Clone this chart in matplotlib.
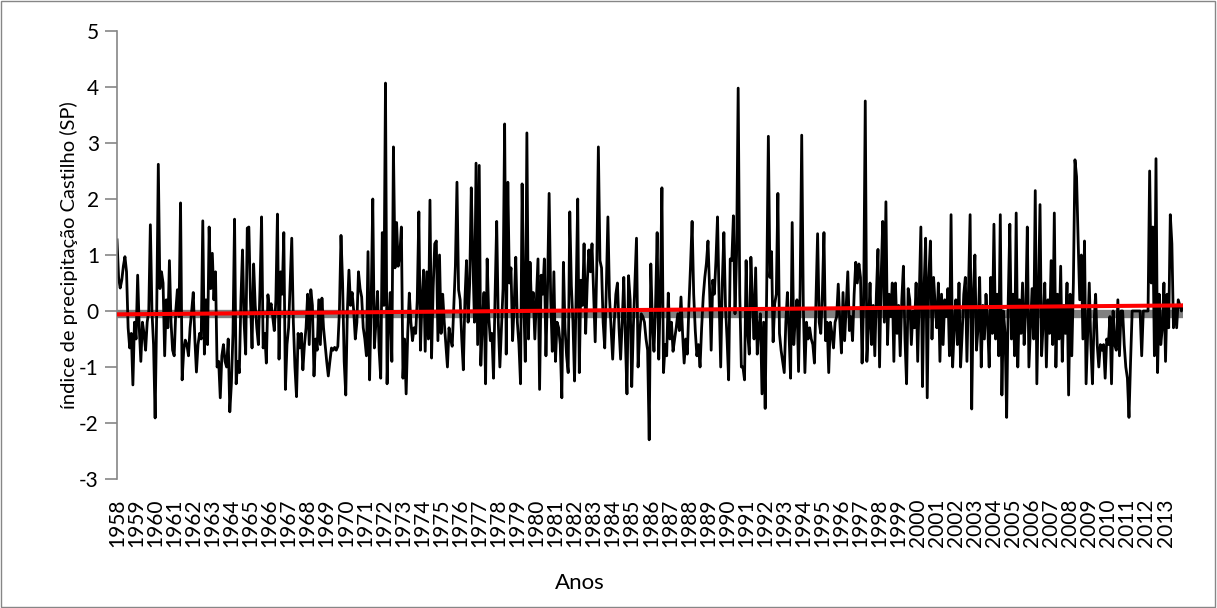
import matplotlib
matplotlib.use("Agg")
import matplotlib.pyplot as plt
import numpy as np
from matplotlib.patches import Rectangle

plt.rcParams['font.family'] = ['Lato', 'DejaVu Sans']
plt.rcParams['axes.unicode_minus'] = False

# monthly index values, one row per year (Jan..Dec)
years = list(range(1958, 2014))

v1958_1962 = [
    1.27, 0.6, 0.41, 0.55, 0.8, 0.97, 0.7, -0.3, -0.66, -0.4, -1.32, -0.2,
    -0.5, 0.64, -0.3, -0.9, -0.2, -0.4, -0.7, -0.2, 0.0, 1.54, 0.0, -0.6,
    -1.91, 0.0, 2.62, 0.4, 0.7, 0.5, -0.8, 0.2, -0.3, 0.9, -0.2, -0.7,
    -0.8, 0.0, 0.38, -0.1, 1.93, -1.23, -0.7, -0.52, -0.6, -0.8, -0.3, 0.0,
    0.33, -0.5, -1.09, -0.6, -0.4, -0.5, 1.61, -0.77, 0.2, -0.6, 1.5, 0.4,
]
v1963_1967 = [
    1.03, 0.2, 0.7, -1.0, -0.9, -1.55, -0.8, -0.6, -0.9, -1.0, -0.5, -1.8,
    -1.3, -0.4, 1.64, -1.3, -0.9, -1.1, 0.2, 1.09, -0.2, -0.77, 1.48, 1.5,
    0.2, -0.66, 0.84, 0.1, -0.3, -0.6, 0.4, 1.68, -0.66, -0.4, -0.93, 0.29,
    0.0, 0.13, -0.1, -0.35, 0.2, 1.73, -0.86, 0.7, 0.3, 1.4, -1.4, -0.6,
    -0.3, 0.5, 1.3, -0.2, -1.0, -1.53, -0.4, -0.66, -0.4, -1.05, -0.6, -0.3,
]
v1968_1972 = [
    0.3, -0.6, 0.38, 0.1, -1.16, -0.5, -0.7, 0.2, -0.6, 0.23, -0.3, -0.6,
    -0.9, -1.16, -0.9, -0.66, -0.7, -0.65, -0.7, -0.63, 0.0, 1.35, 0.5, -0.9,
    -1.5, 0.0, 0.73, 0.1, 0.33, 0.0, -0.5, -0.2, 0.7, 0.4, 0.25, -0.3,
    -0.5, -0.8, 1.06, -1.23, 0.2, 2.0, -0.66, -0.2, 0.35, -0.7, -1.2, 1.4,
    0.1, 4.07, -1.3, -0.2, 0.33, -0.9, 2.93, 0.77, 1.58, 0.8, 1.0, 1.5,
]
v1973_1977 = [
    -1.2, -0.5, -1.48, -0.4, 0.32, -0.2, -0.53, -0.3, -0.4, 0.2, 1.77, -0.7,
    0.2, 0.73, -0.72, 0.7, -0.5, 1.98, -0.84, 0.4, 1.2, 1.25, -0.53, 1.0,
    -0.4, 0.3, -0.2, -0.6, -1.0, -0.3, -0.5, -0.63, 0.1, 0.8, 2.3, 0.38,
    0.2, -0.5, -1.05, 0.2, 0.9, -0.2, 0.5, 2.2, 0.93, -0.2, 2.64, -0.6,
    2.6, -0.97, -0.2, 0.33, -1.3, 0.93, -0.1, -0.53, -0.4, -1.2, 0.3, 1.6,
]
v1978_1982 = [
    -0.2, -1.0, -0.3, 0.4, 3.34, -0.77, 2.3, 0.5, 0.77, -0.53, 0.1, 0.96,
    -0.2, -0.6, -1.3, 2.27, 0.2, -0.9, 3.18, -0.5, 0.87, 0.0, 0.33, -0.5,
    0.2, 0.93, -1.4, 0.64, 0.3, 0.93, -0.8, 0.4, 2.1, 0.2, -0.72, 0.7,
    -0.9, -0.2, -0.3, -0.6, -1.55, 0.87, -0.3, -0.8, -1.1, 1.77, 0.45, -0.2,
    -1.25, 0.3, 2.0, -1.1, 0.55, 0.1, 1.2, -0.4, 0.5, 1.09, 0.7, 1.2,
]
v1983_1987 = [
    0.3, -0.55, 0.8, 2.93, 0.9, 0.77, -0.2, -0.66, 0.4, 1.68, 0.25, -0.3,
    -0.86, -0.2, 0.3, 0.5, -0.3, -0.86, -0.2, 0.6, -0.5, -1.48, 0.63, 0.2,
    -1.35, -0.3, 0.5, 1.3, -1.0, -0.4, -0.05, -0.1, -0.2, -0.5, -0.7, -2.3,
    0.84, -0.2, -0.72, 0.1, 1.4, -0.86, 0.3, 2.2, -1.1, -0.6, -0.8, 0.32,
    -0.5, -0.2, -0.72, -0.5, -0.3, -0.05, -0.35, 0.25, -0.4, -0.93, -0.5, -0.77,
]
v1988_1992 = [
    0.1, 0.8, 1.6, 0.3, -0.35, -0.8, -0.6, -1.0, -0.3, 0.25, 0.6, 0.85,
    1.25, 0.4, -0.7, 0.55, 0.3, 0.9, 1.68, 0.2, -1.0, 0.5, 1.4, 0.1,
    -0.5, -1.23, 0.93, 0.9, 1.7, -0.05, 1.0, 3.98, 0.3, -1.0, -1.0, -1.23,
    0.9, -0.4, -0.77, 0.96, 0.2, -0.5, 0.77, -0.77, -0.3, -0.05, -1.48, -0.2,
    -1.74, 0.5, 3.12, 0.6, 1.06, -0.55, 0.13, 0.3, 2.1, -0.4, -0.7, -0.9,
]
v1993_1997 = [
    -1.1, -0.2, 0.33, -0.4, -1.2, 1.58, -0.6, -0.1, 0.2, -1.08, 0.4, 3.14,
    0.1, -1.1, -0.2, -0.5, -0.3, -0.5, -0.6, -0.93, 0.2, 1.38, -0.2, -0.4,
    0.3, 1.4, -0.53, -0.2, -1.1, -0.2, -0.4, -0.66, -0.2, -0.1, 0.48, -0.2,
    -0.75, 0.33, -0.53, 0.1, 0.7, -0.35, -0.1, -0.53, 0.3, 0.87, 0.5, 0.84,
    0.6, -0.93, 0.2, 3.75, -0.9, -0.3, 0.5, -0.6, 0.1, -0.8, 0.3, 1.1,
]
v1998_2002 = [
    -1.0, 0.6, 1.6, -0.2, 1.95, -0.6, 0.3, -0.1, 0.5, -0.9, 0.5, -0.4,
    0.1, -0.8, 0.2, 0.8, -0.5, -1.3, 0.4, 0.2, -0.6, 0.0, -0.3, 0.5,
    -0.9, 0.3, 1.5, -1.35, 0.4, 1.3, -1.55, 0.6, 1.25, -0.5, 0.6, 0.1,
    -0.3, 0.5, -0.9, 0.3, -0.6, 0.2, -0.1, 0.4, -0.8, 1.72, -1.0, -0.3,
    0.2, -0.6, 0.5, -1.0, -0.4, 0.3, 0.6, -0.9, 0.4, 1.72, -1.75, 0.3,
]
v2003_2007 = [
    1.0, -0.7, -0.3, 0.6, -1.0, 0.1, -0.5, 0.3, -0.2, -1.0, 0.6, -0.4,
    1.55, -0.5, 0.3, -0.8, 1.72, -1.5, 0.0, -0.4, -1.9, 0.2, 1.55, -0.5,
    0.3, -0.8, 1.75, -1.0, 0.2, -0.4, 0.5, -0.6, 0.0, 1.5, -1.0, -0.3,
    0.4, -0.5, 2.15, -1.3, 0.3, 1.9, -0.8, -0.2, 0.5, -1.0, 0.2, -0.4,
    0.9, -0.6, 1.75, -1.0, 0.3, -0.5, 0.8, -0.9, 0.1, -0.4, 0.5, -1.5,
]
v2008_2013 = [
    0.3, -0.8, 0.5, 2.7, 2.4, 1.25, 0.2, 1.0, -0.5, 1.25, -1.3, -0.4,
    0.5, -0.6, -1.3, -0.2, 0.3, -0.6, -1.0, -0.6, -0.7, -0.6, -1.2, -0.5,
    -0.6, -0.1, -1.3, 0.0, -0.6, -0.7, 0.2, -0.8, 0.0, 0.0, -0.6, -1.0,
    -1.2, -1.9, -0.9, 0.0, 0.0, 0.0, 0.0, 0.0, 0.0, -0.8, 0.0, 0.0,
    0.0, 0.0, 2.5, 0.5, 1.5, -0.8, 2.72, -1.1, 0.3, -0.6, -0.3, 0.5,
    -0.9, 0.3, -0.3, 1.72, 1.2, -0.3, 0.1, -0.3, 0.2, 0.1, 0.0, 0.1,
]

# linear trendline (value at first and last month)
trend_ends = [-0.06, 0.10]
# grey reference band just under zero
band_level = -0.055

values = np.array(v1958_1962 + v1963_1967 + v1968_1972 + v1973_1977 + v1978_1982
                  + v1983_1987 + v1988_1992 + v1993_1997 + v1998_2002 + v2003_2007
                  + v2008_2013)
x = np.arange(len(values))

fig = plt.figure(figsize=(12.17, 6.08), dpi=100)
ax = fig.add_axes([117 / 1217, 1 - 479 / 608, (1183 - 117) / 1217, (479 - 31) / 608])

ax.axhline(band_level, color='#808080', lw=6, zorder=1)
ax.plot(x, values, color='black', lw=2.0, zorder=2)
ax.plot([x[0], x[-1]], trend_ends, color='#ff0000', lw=2.9, zorder=3)

ax.set_xlim(0, len(values) - 1)
ax.set_ylim(-3, 5)
ax.set_yticks(range(-3, 6))
ax.set_xticks(np.arange(len(years)) * 12)
ax.set_xticklabels([str(y) for y in years], rotation=90, fontsize=15)
ax.tick_params(axis='x', length=0, pad=14)
ax.tick_params(axis='y', labelsize=15, length=9, width=1.2, color='#868686', pad=4)

for s in ['top', 'right', 'bottom']:
    ax.spines[s].set_visible(False)
ax.spines['left'].set_color('#868686')
ax.spines['left'].set_linewidth(1.2)

ax.set_ylabel('índice de precipitação Castilho (SP)', fontsize=14.5)
ax.yaxis.set_label_coords(-0.037, 0.5)
fig.text(580 / 1217, 1 - 583 / 608, 'Anos', fontsize=16, ha='center', va='center')

fig.patches.append(Rectangle((0.001, 0.002), 0.997, 0.996, transform=fig.transFigure,
                             fill=False, edgecolor='#868686', lw=1.0))

fig.savefig('out.png', dpi=100)
